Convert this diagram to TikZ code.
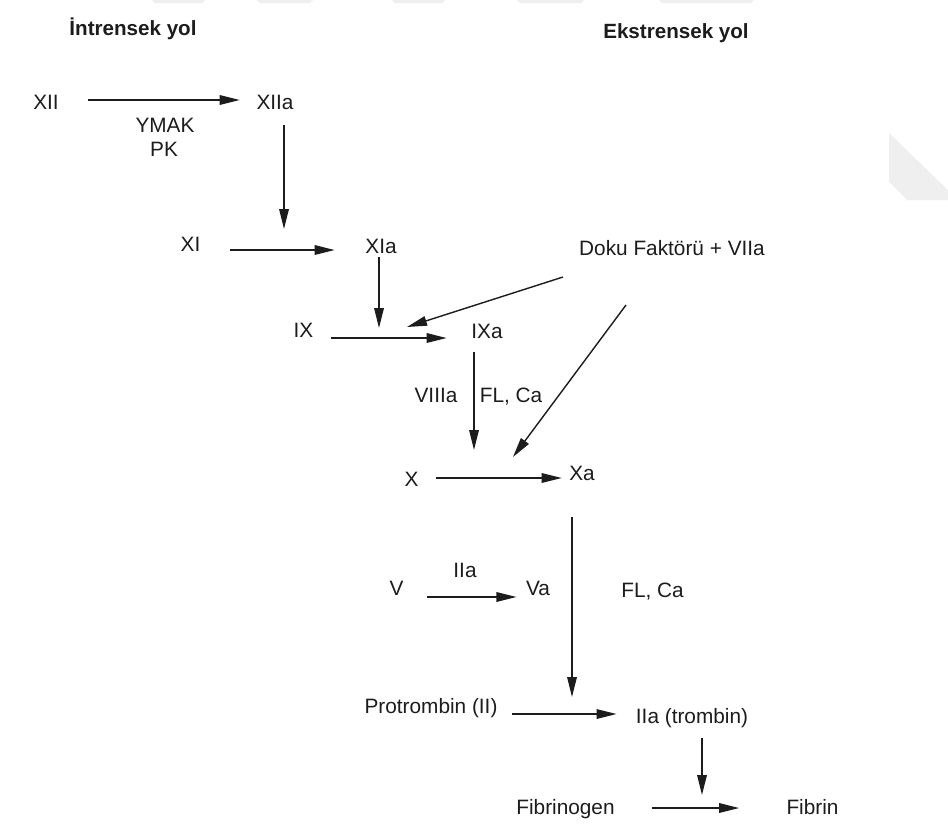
\documentclass[tikz,border=0pt]{standalone}
\usepackage{fontspec}
\setmainfont{Liberation Sans}
\usetikzlibrary{arrows.meta}
\definecolor{ink}{HTML}{1C1C1C}
\definecolor{wmgray}{HTML}{EFEFEF}
\tikzset{
  lbl/.style={font=\fontsize{10.4}{12}\selectfont, text=ink, inner sep=0pt,
              text height=7.6pt, text depth=2pt, anchor=base},
  ttl/.style={lbl, font=\bfseries\fontsize{10.3}{12}\selectfont},
  arr/.style={draw=ink, line width=0.7pt, -{Triangle[length=10pt,width=4.8pt]}},
  wm/.style={fill=wmgray, draw=none}
}
\begin{document}
\begin{tikzpicture}[x=0.5pt,y=-0.5pt]
\useasboundingbox (0,0) rectangle (948,826);
\fill[white] (0,0) rectangle (948,826);

% light page marks
\fill[wm] (152,0) -- (205,0) -- (202,3) -- (155,3) -- cycle;
\fill[wm] (257,0) -- (313,0) -- (310,3) -- (260,3) -- cycle;
\fill[wm] (392,0) -- (445,0) -- (442,3) -- (395,3) -- cycle;
\fill[wm] (517,0) -- (584,0) -- (581,3) -- (520,3) -- cycle;
\fill[wm] (659,0) -- (754,0) -- (751,3) -- (662,3) -- cycle;
\fill[wm] (889,133) -- (948,190) -- (948,200) -- (907,200) -- (889,182) -- cycle;

% headings
\node[ttl] (tin) at (133,35) {İntrensek yol};
\node[ttl] (tex) at (676,38) {Ekstrensek yol};

% factors
\node[lbl] (xii)   at (46,109)    {XII};
\node[lbl] (xiia)  at (275,109)   {XIIa};
\node[lbl] (ymak)  at (165,132)   {YMAK};
\node[lbl] (pk)    at (164,156)   {PK};
\node[lbl] (xi)    at (190.5,251) {XI};
\node[lbl] (xia)   at (381,253)   {XIa};
\node[lbl] (ix)    at (303.5,337) {IX};
\node[lbl] (ixa)   at (487,338)   {IXa};
\node[lbl] (doku)  at (672,255)   {Doku Faktörü + VIIa};
\node[lbl] (viiia) at (436,402)   {VIIIa};
\node[lbl] (flca1) at (511,402)   {FL, Ca};
\node[lbl] (x)     at (411.5,486) {X};
\node[lbl] (xa)    at (582,480)   {Xa};
\node[lbl] (iia1)  at (465,577)   {IIa};
\node[lbl] (v)     at (396.5,595) {V};
\node[lbl] (va)    at (538,595)   {Va};
\node[lbl] (flca2) at (652.5,597) {FL, Ca};
\node[lbl] (pro)   at (431,713)   {Protrombin (II)};
\node[lbl] (iia)   at (692,723)   {IIa (trombin)};
\node[lbl] (fbg)   at (565.5,814) {Fibrinogen};
\node[lbl] (fbr)   at (812.5,814) {Fibrin};

% points where arrows meet other reactions
\coordinate (j1) at (284,229);
\coordinate (j2) at (379,328);
\coordinate (j3) at (407,327);
\coordinate (j4) at (513,457);
\coordinate (j5) at (474,450);
\coordinate (j6) at (572,697);
\coordinate (j7) at (702,795);

% conversions
\draw[arr] ([shift={(14.6pt,4.5pt)}]xii.base east) -- ([shift={(-8.2pt,4.5pt)}]xiia.base west);
\draw[arr] ([shift={(14.8pt,0.5pt)}]xi.base east) -- ([shift={(-15.2pt,1.5pt)}]xia.base west);
\draw[arr] ([shift={(8.4pt,-0.5pt)}]ix.base east) -- ([shift={(-12.2pt,0pt)}]ixa.base west);
\draw[arr] ([shift={(8.7pt,4pt)}]x.base east) -- ([shift={(-3.6pt,1pt)}]xa.base west);
\draw[arr] ([shift={(11.8pt,-1pt)}]v.base east) -- ([shift={(-4.6pt,-1pt)}]va.base west);
\draw[arr] ([shift={(7pt,-0.5pt)}]pro.base east) -- ([shift={(-9.5pt,4.5pt)}]iia.base west);
\draw[arr] ([shift={(18.5pt,3pt)}]fbg.base east) -- ([shift={(-23.5pt,3pt)}]fbr.base west);

% activations
\draw[arr] ([shift={(4.5pt,-8pt)}]xiia.base) -- (j1);
\draw[arr] ([shift={(-1pt,-2pt)}]xia.base) -- (j2);
\draw[arr] ([shift={(-54.5pt,-11pt)}]doku.base) -- (j3);
\draw[arr] ([shift={(-23pt,-25pt)}]doku.base) -- (j4);
\draw[arr] ([shift={(-6.5pt,-7pt)}]ixa.base) -- (j5);
\draw[arr] ([shift={(-5pt,-18.5pt)}]xa.base) -- (j6);
\draw[arr] ([shift={(5pt,-7.5pt)}]iia.base) -- (j7);
\end{tikzpicture}
\end{document}
